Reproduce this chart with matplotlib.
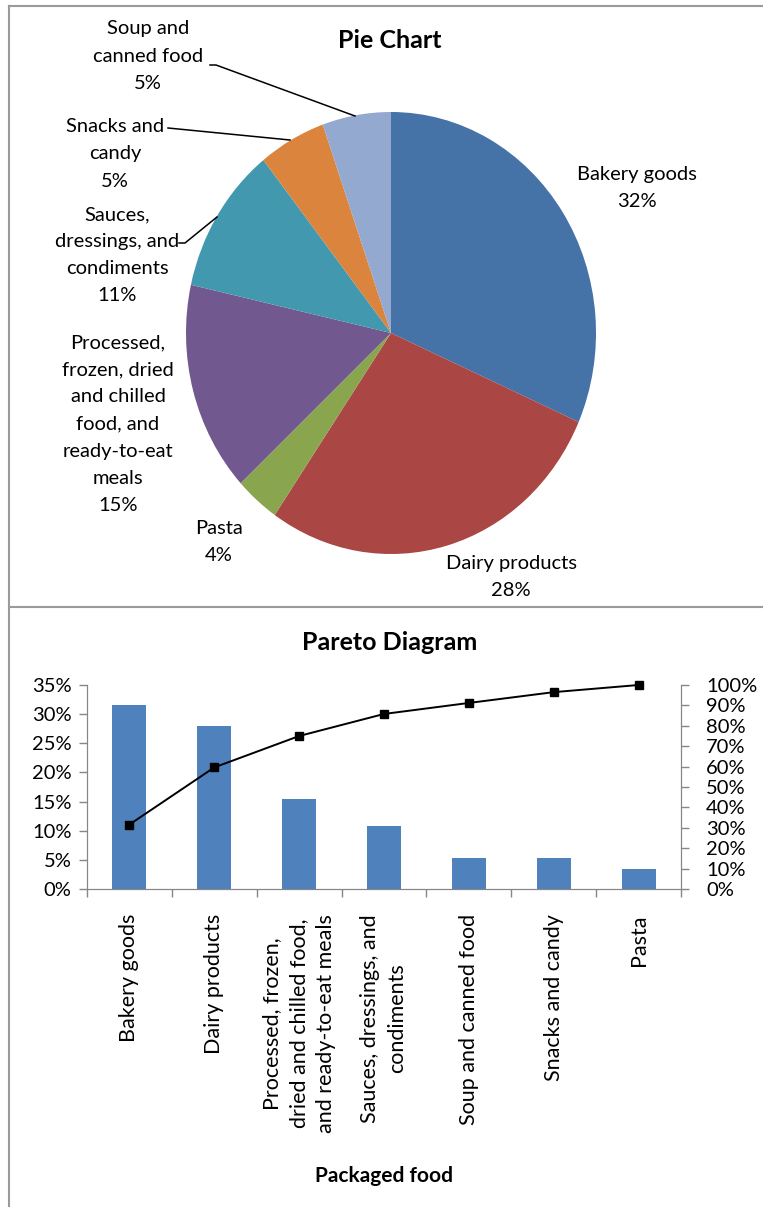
import matplotlib
matplotlib.use('Agg')
import matplotlib.pyplot as plt
from matplotlib.lines import Line2D
from matplotlib.ticker import PercentFormatter, FixedLocator
import numpy as np

plt.rcParams.update({'font.family': ['Lato', 'DejaVu Sans'], 'font.size': 14.5})

W, H = 763, 1207
INK = '#000000'
AXC = '#868686'

# data (share of packaged food), in sheet order
foods = ['Bakery goods', 'Dairy products', 'Pasta',
         'Processed, frozen, dried and chilled food, and ready-to-eat meals',
         'Sauces, dressings, and condiments', 'Snacks and candy', 'Soup and canned food']
shares = [31.6, 28.0, 3.5, 15.4, 10.8, 5.3, 5.4]
pie_colors = ['#4572A7', '#AA4643', '#89A54E', '#71588F', '#4198AF', '#DB843D', '#93A9CF']
pie_text = ['Bakery goods', 'Dairy products', 'Pasta',
            'Processed,\nfrozen, dried\nand chilled\nfood, and\nready-to-eat\nmeals',
            'Sauces,\ndressings, and\ncondiments', 'Snacks and\ncandy', 'Soup and\ncanned food']
bar_text = {
    'Processed, frozen, dried and chilled food, and ready-to-eat meals':
        'Processed, frozen,\ndried and chilled food,\nand ready-to-eat meals',
    'Sauces, dressings, and condiments': 'Sauces, dressings, and\ncondiments',
}

fig = plt.figure(figsize=(W / 100, H / 100), dpi=100)


def px(x, y):
    return x / W, 1 - y / H


def rect(x0, y0, x1, y1):
    return [x0 / W, 1 - y1 / H, (x1 - x0) / W, (y1 - y0) / H]


def ftxt(x, y, s, **kw):
    fx, fy = px(x, y)
    kw.setdefault('ha', 'center')
    kw.setdefault('va', 'center')
    fig.text(fx, fy, s, color=INK, **kw)


# frame lines
fig.add_artist(Line2D([9 / W, 9 / W], [0, 1 - 6 / H], transform=fig.transFigure, color='#9A9A9A', lw=1.5))
fig.add_artist(Line2D([9 / W, 1], [1 - 6 / H, 1 - 6 / H], transform=fig.transFigure, color='#9A9A9A', lw=1.5))
fig.add_artist(Line2D([9 / W, 1], [1 - 607 / H, 1 - 607 / H], transform=fig.transFigure, color='#9A9A9A', lw=1.5))

# ---- pie (slightly stretched vertically, like the source) ----
cx, cy, rx, ry = 391, 333, 205, 221
axp = fig.add_axes(rect(cx - rx, cy - ry, cx + rx, cy + ry))
axp.pie(shares, colors=pie_colors, startangle=90, counterclock=False,
        wedgeprops=dict(linewidth=0))
axp.set_xlim(-1, 1); axp.set_ylim(-1, 1)
axp.set_aspect('auto')
axp.axis('off')

ftxt(390, 40, 'Pie Chart', fontsize=18, fontweight='bold')

pct = [f'{round(v)}%' for v in shares]
lab_pos = [(637, 188), (511, 577), (219, 542), (118, 424), (117, 255), (115, 154), (148, 56)]
for t, p, (x, y) in zip(pie_text, pct, lab_pos):
    ftxt(x, y, t + '\n' + p, linespacing=1.72, multialignment='center')

# leader lines
for xs, ys in [([210, 216, 355], [65, 65, 116]),
               ([168, 290], [128, 140]),
               ([179, 185, 217], [243, 243, 217])]:
    fig.add_artist(Line2D([x / W for x in xs], [1 - y / H for y in ys],
                          transform=fig.transFigure, color='black', lw=1.1))

# ---- pareto ----
order = np.argsort(shares)[::-1]
p_names = [foods[i] for i in order]
p_vals = np.array([shares[i] for i in order]) / 100
cum = np.cumsum(p_vals) / p_vals.sum()

ax = fig.add_axes(rect(87, 685, 681, 889))
xpos = np.arange(len(p_names))
ax.bar(xpos, p_vals, width=0.4, color='#4F81BD', zorder=2)
ax.set_xlim(-0.5, len(p_names) - 0.5)
ax.set_ylim(0, 0.35)
ax.set_yticks(np.arange(0, 0.351, 0.05))
ax.yaxis.set_major_formatter(PercentFormatter(1, decimals=0))
ax.set_xticks(xpos)
ax.set_xticklabels([bar_text.get(n, n) for n in p_names], rotation=90, fontsize=15.5,
                   ha='center', va='top', multialignment='center', linespacing=1.45)
ax.xaxis.set_minor_locator(FixedLocator(np.arange(-0.5, len(p_names), 1)))
ax.tick_params(axis='x', which='major', length=0, pad=18)
ax.tick_params(axis='x', which='minor', length=6, color=AXC, width=1)
ax.tick_params(axis='y', length=6, color=AXC, width=1, pad=5)
ax.spines['top'].set_visible(False)
for s in ['left', 'bottom', 'right']:
    ax.spines[s].set_color(AXC)
ax.set_xlabel('Packaged food', fontweight='bold', fontsize=15, labelpad=24)

ax2 = ax.twinx()
ax2.plot(xpos, cum, color='black', lw=1.4, marker='s', markersize=6, zorder=3, clip_on=False)
ax2.set_ylim(0, 1)
ax2.set_yticks(np.arange(0, 1.01, 0.1))
ax2.yaxis.set_major_formatter(PercentFormatter(1, decimals=0))
ax2.tick_params(axis='y', length=6, color=AXC, width=1, pad=12)
ax2.spines['top'].set_visible(False)
for s in ['left', 'bottom', 'right']:
    ax2.spines[s].set_color(AXC)

ftxt(390, 642, 'Pareto Diagram', fontsize=18, fontweight='bold')

fig.savefig('out.png', dpi=100)
